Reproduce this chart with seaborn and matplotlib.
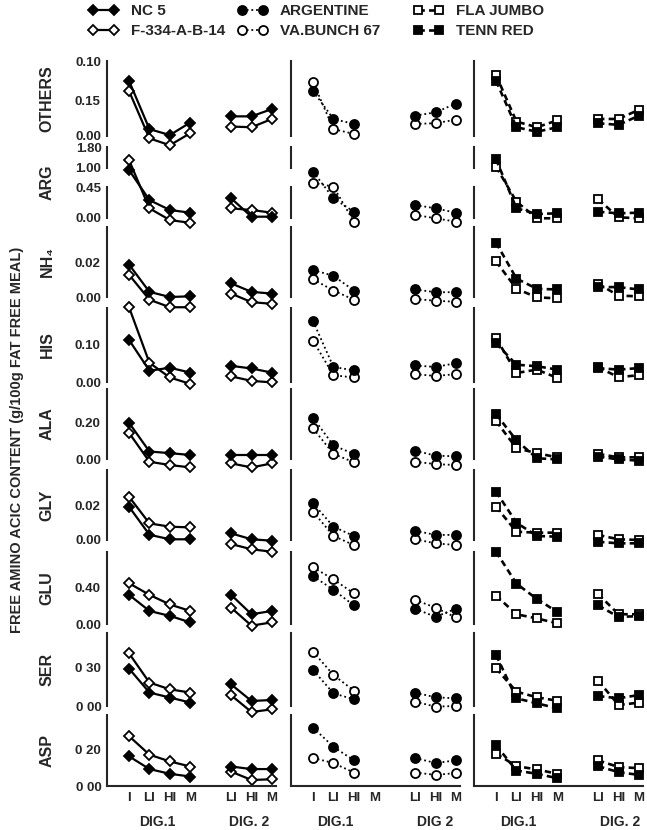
import numpy as np
import matplotlib
matplotlib.use("Agg")
import matplotlib.pyplot as plt
import seaborn as sns

# %% Data (g/100g fat free meal)
# each list: DIG.1 (I, LI, HI, M) then DIG.2 (LI, HI, M)
amino_acids = ["OTHERS", "ARG", "NH₄", "HIS", "ALA", "GLY", "GLU", "SER", "ASP"]
stage_labels = ["I", "LI", "HI", "M", "", "LI", "HI", "M"]
dig1_pos = [1, 2, 3, 4]
dig2_pos = [6, 7, 8]

nc5 = {
    "OTHERS": [0.233, 0.029, 0.004, 0.057, 0.083, 0.083, 0.114],
    "ARG": [0.94, 0.26, 0.116, 0.077, 0.286, 0.019, 0.019],
    "NH₄": [0.019, 0.003, 0.0, 0.0004, 0.008, 0.003, 0.002],
    "HIS": [0.112, 0.030, 0.038, 0.025, 0.043, 0.036, 0.025],
    "ALA": [0.198, 0.041, 0.032, 0.022, 0.022, 0.022, 0.022],
    "GLY": [0.019, 0.003, 0.0004, 0.0004, 0.0038, 0.0004, -0.0004],
    "GLU": [0.32, 0.143, 0.089, 0.018, 0.32, 0.107, 0.143],
    "SER": [0.292, 0.105, 0.066, 0.027, 0.169, 0.039, 0.047],
    "ASP": [0.163, 0.093, 0.067, 0.052, 0.107, 0.093, 0.093],
}
f334 = {
    "OTHERS": [0.19, -0.01, -0.039, 0.012, 0.04, 0.037, 0.072],
    "ARG": [1.30, 0.14, -0.03, -0.07, 0.14, 0.116, 0.077],
    "NH₄": [0.013, -0.0016, -0.006, -0.006, 0.002, -0.003, -0.004],
    "HIS": [0.199, 0.051, 0.012, -0.005, 0.015, 0.003, -0.001],
    "ALA": [0.143, -0.015, -0.033, -0.046, -0.024, -0.046, -0.024],
    "GLY": [0.0247, 0.0095, 0.0076, 0.0072, -0.0023, -0.0053, -0.0067],
    "GLU": [0.447, 0.32, 0.214, 0.143, 0.179, -0.018, 0.018],
    "SER": [0.411, 0.183, 0.130, 0.105, 0.084, -0.047, -0.026],
    "ASP": [0.274, 0.172, 0.135, 0.107, 0.079, 0.033, 0.037],
}
argentine = {
    "OTHERS": [0.19, 0.072, 0.051, np.nan, 0.086, 0.10, 0.137],
    "ARG": [0.893, 0.286, 0.091, np.nan, 0.189, 0.14, 0.077],
    "NH₄": [0.0158, 0.0124, 0.0038, np.nan, 0.0044, 0.0028, 0.0028],
    "HIS": [0.162, 0.040, 0.031, np.nan, 0.044, 0.040, 0.050],
    "ALA": [0.226, 0.074, 0.028, np.nan, 0.046, 0.018, 0.015],
    "GLY": [0.021, 0.0076, 0.0023, np.nan, 0.0053, 0.0029, 0.0029],
    "GLU": [0.525, 0.375, 0.204, np.nan, 0.168, 0.078, 0.168],
    "SER": [0.281, 0.099, 0.052, np.nan, 0.104, 0.068, 0.060],
    "ASP": [0.321, 0.215, 0.141, np.nan, 0.154, 0.126, 0.141],
}
va_bunch = {
    "OTHERS": [0.228, 0.029, 0.009, np.nan, 0.051, 0.054, 0.069],
    "ARG": [0.574, 0.459, -0.054, np.nan, 0.044, -0.004, -0.054],
    "NH₄": [0.0104, 0.0038, -0.0016, np.nan, -0.0012, -0.0022, -0.0028],
    "HIS": [0.110, 0.018, 0.012, np.nan, 0.021, 0.016, 0.021],
    "ALA": [0.167, 0.028, -0.018, np.nan, -0.015, -0.028, -0.033],
    "GLY": [0.0162, 0.0023, -0.0029, np.nan, 0.0004, -0.0019, -0.0029],
    "GLU": [0.622, 0.49, 0.335, np.nan, 0.265, 0.179, 0.072],
    "SER": [0.424, 0.242, 0.12, np.nan, 0.034, -0.005, 0.0],
    "ASP": [0.154, 0.126, 0.074, np.nan, 0.074, 0.061, 0.071],
}
fla_jumbo = {
    "OTHERS": [0.257, 0.061, 0.037, 0.066, 0.072, 0.072, 0.111],
    "ARG": [1.05, 0.237, -0.004, -0.004, 0.271, 0.01, -0.004],
    "NH₄": [0.0208, 0.0048, -0.0002, -0.0008, 0.0078, 0.0008, 0.0004],
    "HIS": [0.117, 0.024, 0.033, 0.011, 0.039, 0.013, 0.018],
    "ALA": [0.207, 0.059, 0.032, 0.009, 0.028, 0.009, 0.009],
    "GLY": [0.019, 0.0047, 0.0042, 0.0042, 0.0029, 0.0004, 0.0],
    "GLU": [0.311, 0.107, 0.061, 0.008, 0.329, 0.107, 0.107],
    "SER": [0.294, 0.112, 0.068, 0.041, 0.198, 0.008, 0.026],
    "ASP": [0.178, 0.109, 0.091, 0.067, 0.141, 0.104, 0.098],
}
tenn_red = {
    "OTHERS": [0.233, 0.037, 0.018, 0.037, 0.054, 0.047, 0.086],
    "ARG": [1.33, 0.141, 0.058, 0.068, 0.091, 0.068, 0.077],
    "NH₄": [0.0318, 0.0108, 0.0048, 0.0044, 0.0058, 0.0058, 0.0044],
    "HIS": [0.103, 0.046, 0.042, 0.033, 0.037, 0.033, 0.037],
    "ALA": [0.245, 0.102, 0.004, -0.002, 0.013, -0.002, -0.009],
    "GLY": [0.0276, 0.0099, 0.0023, 0.0019, -0.001, -0.0019, -0.0019],
    "GLU": [0.793, 0.443, 0.275, 0.132, 0.204, 0.078, 0.086],
    "SER": [0.398, 0.06, 0.021, -0.018, 0.078, 0.06, 0.086],
    "ASP": [0.224, 0.085, 0.067, 0.043, 0.109, 0.076, 0.061],
}

# axis ranges / tick labels per row (as printed on the chart)
row_top = [0.317, 1.8, 0.041, 0.197, 0.383, 0.040, 0.79, 0.57, 0.39]
row_mid = [0.15, None, 0.02, 0.10, 0.20, 0.02, 0.40, 0.30, 0.20]
row_mid_label = ["0.15", None, "0.02", "0.10", "0.20", "0.02", "0.40", "0 30", "0 20"]
row_bottom_label = ["0.00", "0.00", "0.00", "0.00", "0.00", "0.00", "0.00", "0 00", "0 00"]
row_top_label = ["0.10", "0.45", "", "", "", "", "", "", ""]

# broken ARG axis: 0-0.45, gap, 1.00-1.80
arg_vals = [-1.0, 0.0, 0.45, 1.0, 1.8, 3.0]
arg_px = [-68.9, 0.0, 31.0, 50.0, 71.0, 102.5]


def arg_fwd(y):
    return np.interp(y, arg_vals, arg_px)


def arg_inv(u):
    return np.interp(u, arg_px, arg_vals)


# %% Layout (pixels of the 647x830 original)
W, H = 647, 830
row_px = [(61, 136), (147, 218), (227, 297), (308, 382), (389, 459),
          (470, 540), (552, 624), (633, 706), (715, 786)]
col_left_px = [107, 291, 474]
col_w = 169

columns = [
    {"series": [("F-334-A-B-14", f334, "D", "white"), ("NC 5", nc5, "D", "black")],
     "ls": "-", "lw": 1.6, "ms": 5.2, "dig": [(2.4, "DIG.1"), (6.9, "DIG. 2")]},
    {"series": [("VA.BUNCH 67", va_bunch, "o", "white"), ("ARGENTINE", argentine, "o", "black")],
     "ls": (0, (1, 1.6)), "lw": 1.3, "ms": 6.5, "dig": [(2.1, "DIG.1"), (7.0, "DIG 2")]},
    {"series": [("FLA JUMBO", fla_jumbo, "s", "white"), ("TENN RED", tenn_red, "s", "black")],
     "ls": (0, (2.4, 1.6)), "lw": 1.9, "ms": 5.8, "dig": [(2.1, "DIG.1"), (7.1, "DIG. 2")]},
]
legend_order = [["NC 5", "F-334-A-B-14"], ["ARGENTINE", "VA.BUNCH 67"], ["FLA JUMBO", "TENN RED"]]
legend_x_px = [88, 237, 413]

sns.set_theme(style="white")
plt.rcParams["font.family"] = ["Liberation Sans", "DejaVu Sans"]
plt.rcParams["font.weight"] = "bold"
plt.rcParams["axes.linewidth"] = 1.5

fig = plt.figure(figsize=(W / 100, H / 100), dpi=100)


def draw_series(ax, values, marker, face, ls, lw, ms, label):
    for k, (pos, vals) in enumerate([(dig1_pos, values[:4]), (dig2_pos, values[4:])]):
        xs = [p for p, v in zip(pos, vals) if np.isfinite(v)]
        ys = [v for v in vals if np.isfinite(v)]
        sns.lineplot(x=xs, y=ys, ax=ax, color="black", marker=marker, markersize=ms,
                     markerfacecolor=face, markeredgecolor="black", markeredgewidth=1.3,
                     linestyle=ls, linewidth=lw, sort=False, estimator=None,
                     legend=False, clip_on=False, label=label if k == 0 else None)


def bracket_ticks(ax, lo, hi, labels):
    ax.set_yticks([lo, hi], labels, minor=True)
    ax.tick_params(axis="y", which="minor", direction="in", length=5, width=1.5,
                   pad=4, labelsize=9.5)


legend_handles = {}
n_rows = len(amino_acids)
for r, aa in enumerate(amino_acids):
    top_px, bot_px = row_px[r]
    for c, col in enumerate(columns):
        ax = fig.add_axes([col_left_px[c] / W, 1 - bot_px / H, col_w / W, (bot_px - top_px) / H])
        ax.patch.set_visible(False)
        for label, data, marker, face in col["series"]:
            draw_series(ax, data[aa], marker, face, col["ls"], col["lw"], col["ms"], label)
        if r == 0:
            h, l = ax.get_legend_handles_labels()
            legend_handles.update(dict(zip(l, h)))

        if aa == "ARG":
            ax.set_yscale("function", functions=(arg_fwd, arg_inv))
        ax.set_xlim(-0.08, 8.2)
        ax.set_ylim(0, row_top[r])
        ax.set_xlabel("")
        ax.set_ylabel("")
        ax.spines[["top", "right"]].set_visible(False)
        show = c == 0

        if row_mid[r] is not None:
            ax.set_yticks([row_mid[r]], [row_mid_label[r] if show else ""])
            ax.tick_params(axis="y", which="major", direction="inout", length=7, width=1.5,
                           pad=1, labelsize=9.5)
        else:
            ax.set_yticks([])

        if aa == "ARG":
            ax.spines["left"].set_bounds(0, 0.45)
            bracket_ticks(ax, 0, 0.45, ["0.00", "0.45"] if show else ["", ""])
            ov = ax.inset_axes([0, 1.0, 1, 0.8], transform=ax.get_yaxis_transform())
            ov.patch.set_visible(False)
            ov.set_ylim(1.0, 1.8)
            ov.set_xticks([])
            ov.set_yticks([])
            ov.spines[["top", "right", "bottom"]].set_visible(False)
            bracket_ticks(ov, 1.0, 1.8, ["1.00", "1.80"] if show else ["", ""])
        else:
            ax.spines["left"].set_bounds(0, row_top[r])
            bracket_ticks(ax, 0, row_top[r],
                          [row_bottom_label[r], row_top_label[r]] if show else ["", ""])

        if r == n_rows - 1:
            ax.set_xticks(range(1, 9), stage_labels)
            ax.tick_params(axis="x", direction="in", length=6, width=1.5, pad=4, labelsize=9.5)
            for xpos, txt in col["dig"]:
                ax.annotate(txt, xy=(xpos, 0), xycoords=("data", "axes fraction"),
                            xytext=(0, -26), textcoords="offset points",
                            ha="center", va="center", fontsize=10)
        else:
            ax.spines["bottom"].set_visible(False)
            ax.tick_params(axis="x", which="both", bottom=False, labelbottom=False)

    fig.text(47 / W, 1 - (top_px + bot_px) / 2 / H, aa, rotation=90,
             ha="center", va="center", fontsize=11.5)

fig.text(17 / W, 1 - 440 / H, "FREE AMINO ACIC CONTENT (g/100g FAT FREE MEAL)",
         rotation=90, ha="center", va="center", fontsize=10.5)

# %% Legend, one block per pair of varieties
for names, x_px in zip(legend_order, legend_x_px):
    fig.legend([legend_handles[n] for n in names], names, loc="upper left",
               bbox_to_anchor=(x_px / W, 1 - 4 / H), frameon=False, numpoints=2,
               handlelength=2.0, handletextpad=0.8, labelspacing=0.4,
               borderpad=0, borderaxespad=0, prop={"weight": "bold", "size": 11})

fig.savefig("out.png", dpi=100)
